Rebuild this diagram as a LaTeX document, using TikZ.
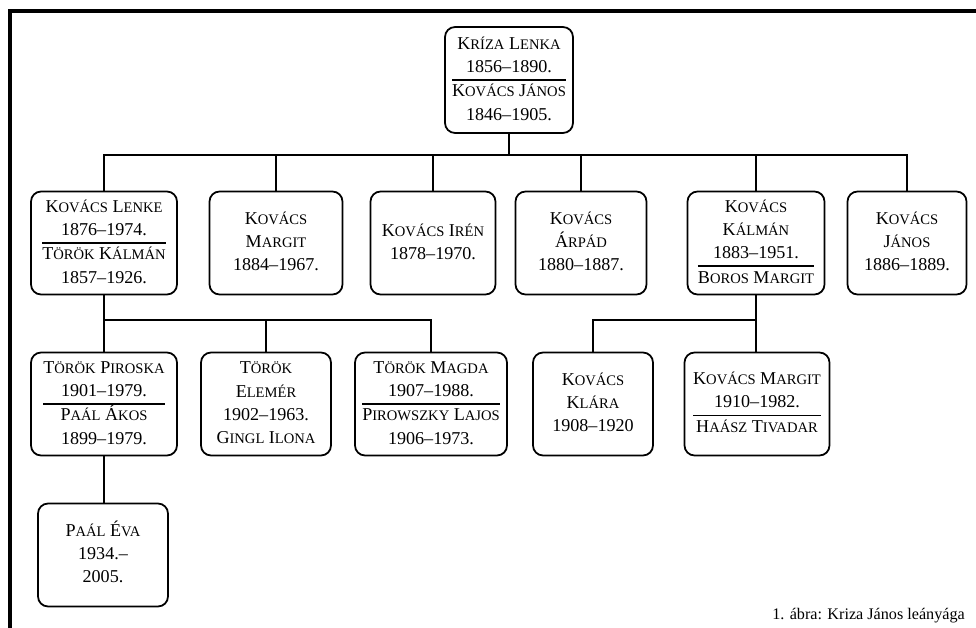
\documentclass[tikz,border=0pt]{standalone}
\usepackage{fontspec}
\setmainfont{Liberation Serif}
\usepackage{tikz}
\newcommand{\smc}[2]{#1{\fontsize{8.3}{10}\selectfont #2}}
\newcommand{\pcell}[1]{\begin{tabular}{@{}c@{}}#1\end{tabular}}
\setlength{\arrayrulewidth}{0.8pt}

\begin{document}
\begin{tikzpicture}[x=0.02cm, y=-0.02cm,
  every node/.style={font=\fontsize{10.3}{13.2}\selectfont},
  pbox/.style={draw, line width=1pt, rounded corners=0.2cm, minimum height=2.06cm, inner sep=0pt, align=center},
  link/.style={line width=0.8pt}]
  \useasboundingbox (0,0) rectangle (976,628);
  \draw[line width=2.3pt] (976,11) -- (10,11) -- (10,628);

  % parents
  \node[pbox, minimum width=2.56cm, minimum height=2.12cm] (kriza) at (509,80)
    {\pcell{\smc{K}{RÍZA} \smc{L}{ENKA}\\ 1856--1890.\\ \hline \smc{K}{OVÁCS} \smc{J}{ÁNOS}\\ 1846--1905.}};

  % children
  \node[pbox, minimum width=2.92cm] (lenke) at (104,243)
    {\pcell{\smc{K}{OVÁCS} \smc{L}{ENKE}\\ 1876--1974.\\ \hline \smc{T}{ÖRÖK} \smc{K}{ÁLMÁN}\\ 1857--1926.}};
  \node[pbox, minimum width=2.66cm] (margit) at (276,243)
    {\pcell{\smc{K}{OVÁCS}\\ \smc{M}{ARGIT}\\ 1884--1967.}};
  \node[pbox, minimum width=2.50cm] (iren) at (433,243)
    {\pcell{\smc{K}{OVÁCS} \smc{I}{RÉN}\\ 1878--1970.}};
  \node[pbox, minimum width=2.62cm] (arpad) at (581,243)
    {\pcell{\smc{K}{OVÁCS}\\ \smc{Á}{RPÁD}\\ 1880--1887.}};
  \node[pbox, minimum width=2.74cm] (kalman) at (756,243)
    {\pcell{\smc{K}{OVÁCS}\\ \smc{K}{ÁLMÁN}\\ 1883--1951.\\ \hline \smc{B}{OROS} \smc{M}{ARGIT}}};
  \node[pbox, minimum width=2.38cm] (janos) at (907,243)
    {\pcell{\smc{K}{OVÁCS}\\ \smc{J}{ÁNOS}\\ 1886--1889.}};

  % grandchildren
  \node[pbox, minimum width=2.92cm] (piroska) at (104,404)
    {\pcell{\smc{T}{ÖRÖK} \smc{P}{IROSKA}\\ 1901--1979.\\ \hline \smc{P}{AÁL} \smc{Á}{KOS}\\ 1899--1979.}};
  \node[pbox, minimum width=2.60cm] (elemer) at (266,404)
    {\pcell{\smc{T}{ÖRÖK}\\ \smc{E}{LEMÉR}\\ 1902--1963.\\ \smc{G}{INGL} \smc{I}{LONA}}};
  \node[pbox, minimum width=3.04cm] (magda) at (431,404)
    {\pcell{\smc{T}{ÖRÖK} \smc{M}{AGDA}\\ 1907--1988.\\ \hline \smc{P}{IROWSZKY} \smc{L}{AJOS}\\ 1906--1973.}};
  \node[pbox, minimum width=2.40cm] (klara) at (593,404)
    {\pcell{\smc{K}{OVÁCS}\\ \smc{K}{LÁRA}\\ 1908--1920}};
  \node[pbox, minimum width=2.90cm] (margitk) at (757,404)
    {\pcell{\smc{K}{OVÁCS} \smc{M}{ARGIT}\\ 1910--1982.\\ \hline \smc{H}{AÁSZ} \smc{T}{IVADAR}}};

  \node[pbox, minimum width=2.60cm] (eva) at (103,555)
    {\pcell{\smc{P}{AÁL} \smc{É}{VA}\\ 1934.--\\ 2005.}};

  % connectors
  \coordinate (bar) at (509,155);
  \coordinate (lbar) at (104,320);
  \coordinate (kbar) at (756,320);
  \draw[link] (kriza) -- (bar);
  \draw[link] (lenke.north) |- (bar) -| (janos.north);
  \foreach \n in {margit,iren,arpad,kalman}
    \draw[link] (\n.north) -- (\n.north |- bar);
  \draw[link] (lenke.south) -- (piroska.north);
  \draw[link] (lbar) -| (magda.north);
  \draw[link] (elemer.north) -- (elemer.north |- lbar);
  \draw[link] (kalman.south) -- (kbar) -| (klara.north);
  \draw[link] (kbar) -- (kbar |- margitk.north);
  \draw[link] (piroska.south) -- (piroska.south |- eva.north);

  \node[anchor=base east, font=\fontsize{9.2}{11}\selectfont] (caption) at (971,619)
    {1. ábra: Kriza János leányága};
\end{tikzpicture}
\end{document}
